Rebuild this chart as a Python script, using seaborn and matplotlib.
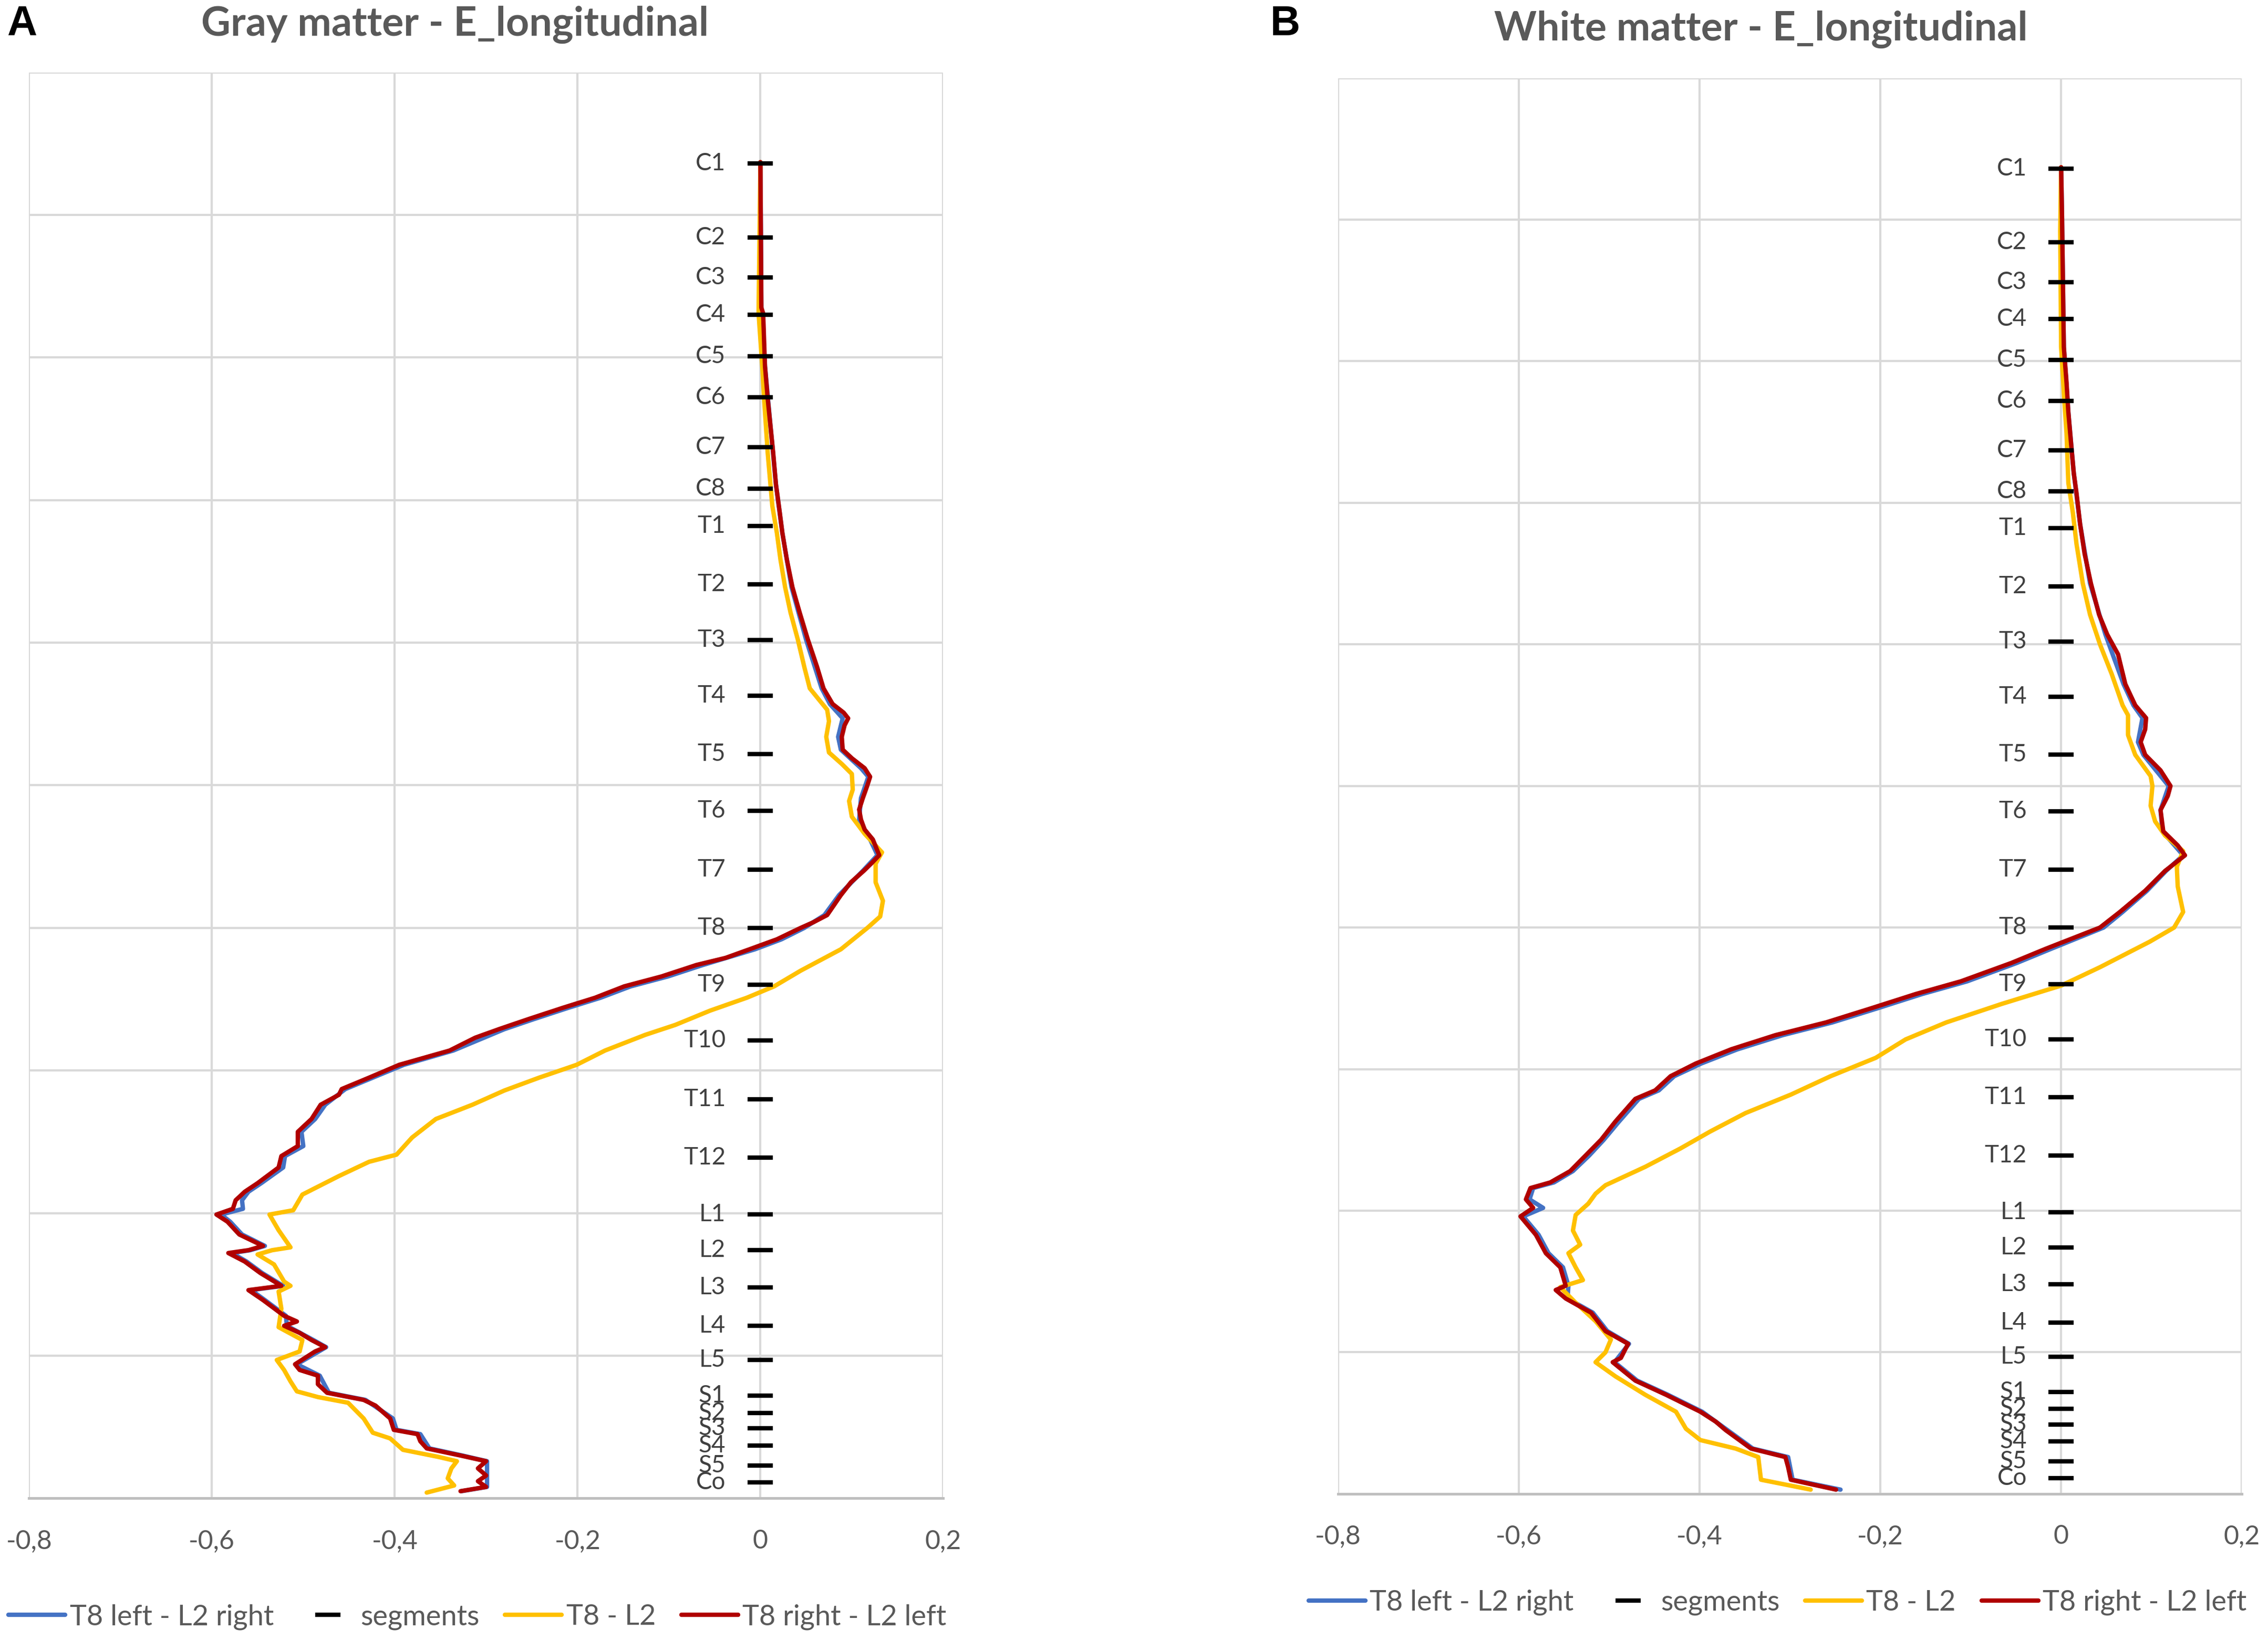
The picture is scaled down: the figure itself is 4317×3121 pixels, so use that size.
import numpy as np
import pandas as pd
import matplotlib
matplotlib.use("Agg")
import matplotlib.pyplot as plt
import seaborn as sns

sns.set_style("white")
plt.rcParams['font.family'] = ['Lato', 'DejaVu Sans']

# vertebral segments (position along the cord, 0 = top of chart, 100 = bottom)
segments = ['C1', 'C2', 'C3', 'C4', 'C5', 'C6', 'C7', 'C8',
            'T1', 'T2', 'T3', 'T4', 'T5', 'T6', 'T7', 'T8', 'T9', 'T10', 'T11', 'T12',
            'L1', 'L2', 'L3', 'L4', 'L5', 'S1', 'S2', 'S3', 'S4', 'S5', 'Co']
segment_pos = [6.4, 11.6, 14.4, 17.0, 19.9, 22.8, 26.3, 29.2,
               31.8, 35.9, 39.8, 43.7, 47.8, 51.8, 55.9, 60.0, 64.0, 67.9, 72.0, 76.1,
               80.1, 82.6, 85.2, 87.9, 90.3, 92.8, 94.0, 95.1, 96.3, 97.7, 98.9]

# ---- A: gray matter ----
gm_red_y = [6.3, 16.5, 16.9, 20.6, 22.9, 24.8, 26.7, 28.9, 30.8, 32.3, 34.2, 36.1, 37.9, 39.8,
            41.7, 43.2, 44.3, 44.9, 45.3, 45.8, 46.6, 47.5, 48.1, 48.8, 49.4, 50.0, 50.9, 51.7,
            52.4, 53.1, 53.8, 54.6, 54.9, 55.5, 56.0, 56.8, 57.7, 59.1, 59.6, 60.0, 60.8, 61.5,
            62.1, 62.6, 63.4, 64.1, 64.9, 65.6, 66.4, 67.1, 67.7, 68.6, 69.6, 70.5, 71.3, 71.7,
            72.4, 73.4, 74.3, 75.3, 76.0, 76.8, 77.9, 78.5, 79.1, 79.7, 80.1, 80.6, 81.5, 82.3,
            82.6, 82.8, 83.4, 84.2, 85.1, 85.4, 86.1, 87.2, 87.6, 87.9, 88.4, 88.9, 89.4, 89.7,
            90.6, 91.0, 91.4, 92.0, 92.6, 93.1, 93.5, 94.4, 95.2, 95.5, 96.0, 96.5, 97.0, 97.4,
            97.9, 98.4, 98.8, 99.2, 99.5]
gm_red_x = [0.0, 0.001, 0.003, 0.005, 0.008, 0.011, 0.014, 0.017, 0.021, 0.024, 0.029, 0.035, 0.043, 0.052,
            0.062, 0.069, 0.079, 0.091, 0.096, 0.092, 0.089, 0.090, 0.100, 0.114, 0.120, 0.117, 0.112, 0.108,
            0.110, 0.114, 0.123, 0.128, 0.130, 0.121, 0.113, 0.099, 0.088, 0.073, 0.058, 0.044, 0.018, -0.012,
            -0.038, -0.070, -0.108, -0.149, -0.181, -0.216, -0.254, -0.286, -0.312, -0.340, -0.395, -0.428, -0.458, -0.461,
            -0.481, -0.491, -0.506, -0.506, -0.524, -0.527, -0.550, -0.564, -0.574, -0.577, -0.595, -0.583, -0.570, -0.544,
            -0.560, -0.582, -0.564, -0.547, -0.524, -0.560, -0.544, -0.521, -0.507, -0.521, -0.504, -0.491, -0.476, -0.487,
            -0.509, -0.504, -0.484, -0.484, -0.474, -0.434, -0.421, -0.405, -0.401, -0.375, -0.372, -0.365, -0.328, -0.300,
            -0.309, -0.300, -0.309, -0.300, -0.328]

gm_blue_y = [6.3, 16.5, 20.6, 24.8, 28.9, 32.3, 36.1, 39.8, 43.2, 44.3, 45.3, 46.6, 47.5, 48.8,
             49.4, 50.9, 52.4, 53.8, 54.9, 56.0, 57.7, 59.1, 60.0, 60.8, 61.5, 62.6, 63.4, 64.1,
             64.9, 65.6, 66.4, 67.1, 68.6, 69.6, 70.5, 71.3, 72.4, 73.4, 74.3, 75.3, 76.0, 76.8,
             77.9, 78.5, 79.1, 79.7, 80.1, 80.6, 81.5, 82.3, 82.6, 82.8, 83.4, 84.2, 85.1, 85.4,
             86.1, 87.2, 87.9, 88.9, 89.4, 90.6, 91.4, 92.6, 93.1, 94.4, 95.2, 95.5, 96.5, 97.0,
             97.4, 98.4, 99.2, 99.5]
gm_blue_x = [0.0, 0.001, 0.005, 0.011, 0.017, 0.024, 0.034, 0.050, 0.067, 0.076, 0.090, 0.085, 0.088, 0.110,
             0.118, 0.110, 0.108, 0.120, 0.128, 0.112, 0.086, 0.070, 0.048, 0.023, -0.006, -0.063, -0.101, -0.142,
             -0.175, -0.210, -0.248, -0.280, -0.336, -0.390, -0.424, -0.454, -0.476, -0.487, -0.502, -0.500, -0.520, -0.522,
             -0.546, -0.560, -0.567, -0.566, -0.590, -0.580, -0.567, -0.542, -0.558, -0.578, -0.562, -0.545, -0.522, -0.557,
             -0.542, -0.519, -0.518, -0.489, -0.475, -0.507, -0.482, -0.472, -0.432, -0.402, -0.398, -0.372, -0.362, -0.326,
             -0.299, -0.299, -0.299, -0.327]

gm_yel_y = [6.3, 16.9, 20.6, 22.9, 26.7, 30.4, 32.3, 34.2, 36.1, 37.9, 39.8, 41.7, 43.2, 44.7,
            45.5, 46.6, 47.7, 48.5, 49.2, 50.3, 51.1, 52.2, 53.4, 54.7, 55.5, 56.8, 58.1, 59.2,
            60.0, 61.5, 63.0, 64.1, 64.9, 65.8, 66.8, 67.5, 68.6, 69.6, 70.5, 71.4, 72.4, 73.4,
            74.7, 75.9, 76.4, 77.4, 78.7, 79.8, 80.1, 81.2, 82.4, 82.6, 82.9, 83.6, 84.8, 85.1,
            85.5, 86.7, 88.0, 88.9, 89.7, 90.3, 91.0, 91.8, 92.5, 92.9, 93.3, 94.4, 95.4, 95.8,
            96.6, 97.1, 97.4, 97.9, 98.6, 99.1, 99.6]
gm_yel_x = [0.0, -0.002, 0.002, 0.004, 0.008, 0.013, 0.018, 0.022, 0.027, 0.033, 0.041, 0.048, 0.054, 0.073,
            0.075, 0.072, 0.075, 0.089, 0.100, 0.101, 0.097, 0.100, 0.114, 0.133, 0.126, 0.126, 0.134, 0.131,
            0.117, 0.088, 0.044, 0.015, -0.015, -0.055, -0.093, -0.126, -0.170, -0.201, -0.242, -0.280, -0.315, -0.355,
            -0.381, -0.398, -0.428, -0.461, -0.501, -0.511, -0.537, -0.527, -0.514, -0.534, -0.550, -0.532, -0.521, -0.514,
            -0.527, -0.524, -0.527, -0.501, -0.504, -0.529, -0.521, -0.514, -0.507, -0.484, -0.451, -0.434, -0.424, -0.405,
            -0.391, -0.352, -0.332, -0.338, -0.342, -0.335, -0.365]

# ---- B: white matter ----
wm_red_y = [6.3, 9.8, 19.0, 21.5, 23.6, 25.8, 27.9, 29.3, 31.5, 33.6, 35.7, 37.9, 39.3, 40.7,
            42.8, 44.3, 45.2, 46.0, 46.9, 47.8, 48.9, 50.0, 50.7, 51.7, 53.2, 54.2, 54.9, 56.0,
            57.4, 58.9, 60.0, 61.5, 62.5, 63.8, 64.7, 65.7, 66.7, 67.6, 68.6, 69.6, 70.5, 71.5,
            72.1, 73.7, 75.0, 76.1, 77.2, 78.0, 78.4, 79.2, 79.8, 80.4, 81.7, 83.0, 84.0, 85.3,
            85.6, 86.2, 87.2, 88.5, 89.4, 90.4, 90.7, 92.0, 93.0, 94.2, 94.9, 95.5, 96.8, 97.4,
            98.1, 99.0, 99.7]
wm_red_x = [0.0, 0.001, 0.003, 0.006, 0.008, 0.011, 0.014, 0.017, 0.021, 0.026, 0.033, 0.042, 0.051, 0.063,
            0.071, 0.082, 0.094, 0.093, 0.088, 0.093, 0.110, 0.121, 0.118, 0.110, 0.113, 0.129, 0.137, 0.115,
            0.093, 0.065, 0.043, -0.017, -0.055, -0.111, -0.161, -0.210, -0.260, -0.316, -0.365, -0.404, -0.432, -0.449,
            -0.471, -0.493, -0.509, -0.526, -0.543, -0.565, -0.587, -0.592, -0.584, -0.598, -0.581, -0.570, -0.554, -0.548,
            -0.559, -0.548, -0.520, -0.504, -0.479, -0.487, -0.496, -0.471, -0.437, -0.399, -0.382, -0.371, -0.343, -0.305,
            -0.302, -0.299, -0.249]

wm_blue_y = [6.3, 9.8, 19.0, 23.6, 27.9, 31.5, 35.7, 39.3, 42.8, 44.3, 45.2, 46.9, 47.8, 50.0,
             51.7, 53.2, 54.9, 56.0, 57.4, 58.9, 60.0, 61.5, 62.5, 63.8, 64.7, 65.7, 66.7, 67.6,
             68.6, 69.6, 70.5, 71.5, 72.1, 73.7, 75.0, 76.1, 77.2, 78.0, 78.4, 79.2, 79.8, 80.4,
             81.7, 83.0, 84.0, 85.3, 86.2, 87.2, 88.5, 89.4, 90.7, 92.0, 93.0, 94.2, 95.5, 96.8,
             97.4, 99.0, 99.7]
wm_blue_x = [0.0, 0.001, 0.003, 0.008, 0.014, 0.021, 0.032, 0.049, 0.069, 0.080, 0.090, 0.085, 0.091, 0.119,
             0.110, 0.112, 0.135, 0.116, 0.095, 0.068, 0.047, -0.011, -0.049, -0.104, -0.154, -0.203, -0.253, -0.308,
             -0.358, -0.398, -0.428, -0.445, -0.467, -0.489, -0.506, -0.522, -0.540, -0.561, -0.584, -0.588, -0.573, -0.595,
             -0.578, -0.567, -0.551, -0.545, -0.546, -0.518, -0.502, -0.478, -0.494, -0.469, -0.435, -0.397, -0.369, -0.341,
             -0.302, -0.297, -0.244]

wm_yel_y = [6.3, 10.8, 19.0, 22.2, 25.1, 28.6, 30.7, 32.9, 35.7, 37.9, 40.0, 42.1, 44.3, 45.0,
            46.4, 47.8, 49.3, 50.0, 51.4, 52.5, 53.5, 54.6, 55.7, 57.1, 58.9, 60.0, 61.0, 62.8,
            64.1, 65.4, 66.7, 67.9, 69.2, 70.5, 71.8, 73.1, 74.4, 75.6, 76.9, 78.2, 78.8, 79.5,
            80.3, 81.4, 82.4, 83.0, 84.0, 84.9, 85.4, 86.5, 87.8, 89.1, 90.0, 90.7, 91.7, 93.0,
            94.2, 95.4, 96.2, 96.8, 97.4, 99.0, 99.7]
wm_yel_x = [0.0, -0.001, 0.0, 0.003, 0.006, 0.008, 0.013, 0.017, 0.024, 0.032, 0.043, 0.056, 0.068, 0.074,
            0.074, 0.082, 0.099, 0.101, 0.099, 0.104, 0.115, 0.135, 0.128, 0.129, 0.135, 0.125, 0.098, 0.043,
            0.0, -0.066, -0.127, -0.172, -0.205, -0.255, -0.299, -0.349, -0.388, -0.421, -0.460, -0.504, -0.515, -0.523,
            -0.537, -0.540, -0.532, -0.545, -0.537, -0.529, -0.554, -0.537, -0.515, -0.498, -0.504, -0.515, -0.493, -0.460,
            -0.426, -0.415, -0.399, -0.360, -0.335, -0.332, -0.277]

xticks = [-0.8, -0.6, -0.4, -0.2, 0.0, 0.2]
xtick_labels = ['-0,8', '-0,6', '-0,4', '-0,2', '0', '0,2']

BLUE = '#4472C4'
YELLOW = '#FFC000'
RED = '#B00000'
GRID = '#D9D9D9'
TXT = '#595959'

fig = plt.figure(figsize=(4317 / 300, 3121 / 300), dpi=300)
ax_a = fig.add_axes([0.0128, 0.0864, 0.4031, 0.8695])
ax_b = fig.add_axes([0.5899, 0.0891, 0.3986, 0.8633])


def draw_panel(ax, blue, yel, red, title, tx, ty, lx, ly):
    sns.lineplot(x=blue[1], y=blue[0], orient='y', sort=False, estimator=None, ax=ax,
                 color=BLUE, linewidth=2.0, label='T8 left - L2 right')
    sns.lineplot(x=yel[1], y=yel[0], orient='y', sort=False, estimator=None, ax=ax,
                 color=YELLOW, linewidth=2.0, label='T8 - L2')
    sns.lineplot(x=red[1], y=red[0], orient='y', sort=False, estimator=None, ax=ax,
                 color=RED, linewidth=2.0, label='T8 right - L2 left')
    ax.plot(np.zeros(len(segment_pos)), segment_pos, linestyle='none', marker='_',
            markersize=11.5, markeredgewidth=2.0, color='black', label='segments', zorder=5)
    for name, pos in zip(segments, segment_pos):
        ax.text(-0.038, pos, name, ha='right', va='center', fontsize=11, color='#404040')

    ax.set_xlim(-0.8, 0.2)
    ax.set_ylim(100, 0)
    ax.set_xticks(xticks)
    ax.set_xticklabels(xtick_labels)
    ax.set_yticks(np.arange(0, 101, 10))
    ax.set_yticklabels([])
    ax.tick_params(axis='x', length=0, pad=14, labelsize=12, labelcolor=TXT)
    ax.tick_params(axis='y', length=0)
    ax.grid(True, color=GRID, linewidth=1.0)
    ax.set_axisbelow(True)
    for side in ['top', 'left', 'right']:
        ax.spines[side].set_visible(False)
    ax.spines['bottom'].set_color('#BFBFBF')
    ax.spines['bottom'].set_linewidth(1.2)
    ax.set_xlabel('')
    ax.set_ylabel('')

    handles, labels = ax.get_legend_handles_labels()
    order = ['T8 left - L2 right', 'segments', 'T8 - L2', 'T8 right - L2 left']
    hmap = dict(zip(labels, handles))
    ax.legend([hmap[k] for k in order], order, loc='center', bbox_to_anchor=(lx, ly),
              bbox_transform=fig.transFigure, ncol=4, frameon=False, fontsize=13,
              handlelength=2.0, handletextpad=0.15, columnspacing=0.9, labelcolor=TXT)
    fig.text(tx, ty, title, ha='center', va='center', fontsize=18.5,
             fontweight='bold', color=TXT)


draw_panel(ax_a, (gm_blue_y, gm_blue_x), (gm_yel_y, gm_yel_x), (gm_red_y, gm_red_x),
           'Gray matter - E_longitudinal', 0.2006, 0.985, 0.2105, 0.0141)
draw_panel(ax_b, (wm_blue_y, wm_blue_x), (wm_yel_y, wm_yel_x), (wm_red_y, wm_red_x),
           'White matter - E_longitudinal', 0.7765, 0.982, 0.7838, 0.0229)

fig.text(0.003, 0.985, 'A', ha='left', va='center', fontsize=19, fontweight='bold',
         family=['Liberation Sans', 'DejaVu Sans'], color='black')
fig.text(0.560, 0.985, 'B', ha='left', va='center', fontsize=19, fontweight='bold',
         family=['Liberation Sans', 'DejaVu Sans'], color='black')

fig.savefig('out.png', dpi=300, facecolor='white')
